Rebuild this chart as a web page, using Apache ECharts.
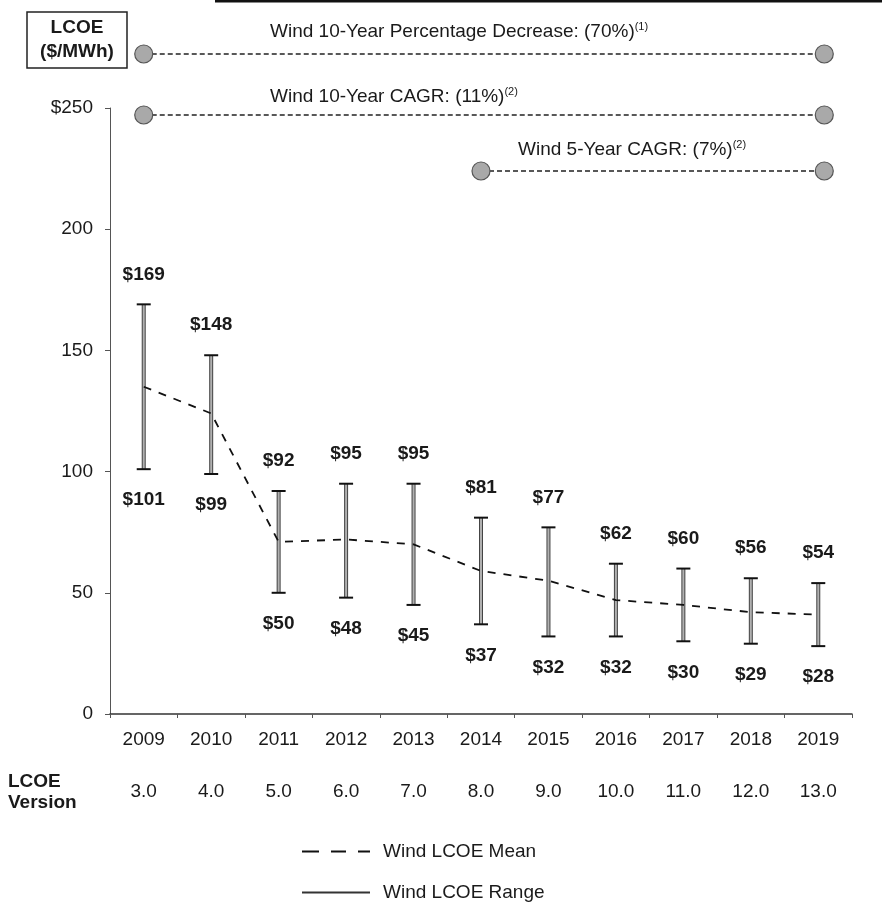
<!DOCTYPE html>
<html>
<head>
<meta charset="utf-8">
<script src="https://cdn.jsdelivr.net/npm/echarts@6/dist/echarts.min.js"></script>
<style>
html,body{margin:0;padding:0;background:#fff;}
#chart{width:882px;height:911px;}
</style>
</head>
<body>
<div id="chart"></div>
<script>
const years = ['2009','2010','2011','2012','2013','2014','2015','2016','2017','2018','2019'];
const versions = ['3.0','4.0','5.0','6.0','7.0','8.0','9.0','10.0','11.0','12.0','13.0'];
const rangeLow = [101, 99, 50, 48, 45, 37, 32, 32, 30, 29, 28];
const rangeHigh = [169, 148, 92, 95, 95, 81, 77, 62, 60, 56, 54];
const meanValues = [135, 124, 71, 72, 70, 59, 55, 47, 45, 42, 41];
const yTicks = [0, 50, 100, 150, 200, 250];

const FONT = 'Arial, "Liberation Sans", sans-serif';
const TXT = '#1a1a1a';
const FS = 19;

const rangeData = years.map((y, i) => [i, rangeLow[i], rangeHigh[i]]);

const chart = echarts.init(document.getElementById('chart'));

const option = {
  animation: false,
  backgroundColor: '#ffffff',
  textStyle: { fontFamily: FONT },
  grid: { left: 110, right: 30, top: 108, bottom: 197 },
  legend: {
    orient: 'vertical',
    left: 297,
    top: 837,
    itemWidth: 68,
    itemHeight: 14,
    itemGap: 22,
    selectedMode: false,
    textStyle: { fontSize: FS, color: TXT, fontFamily: FONT, padding: [0, 0, 0, 8] },
    data: [
      { name: 'Wind LCOE Mean', icon: 'path://M0,0 L17,0 L17,2.2 L0,2.2 Z M29,0 L44,0 L44,2.2 L29,2.2 Z M56,0 L68,0 L68,2.2 L56,2.2 Z', itemStyle: { color: '#111' } },
      { name: 'Wind LCOE Range', icon: 'path://M0,0 L68,0 L68,2.2 L0,2.2 Z', itemStyle: { color: '#333' } }
    ]
  },
  xAxis: [
    {
      type: 'category',
      data: years,
      boundaryGap: true,
      axisLine: { lineStyle: { color: '#333', width: 1.5 } },
      axisTick: { show: true, length: 4, lineStyle: { color: '#555' } },
      axisLabel: { fontSize: FS, color: TXT, margin: 16, fontFamily: FONT }
    },
    {
      type: 'category',
      data: versions,
      position: 'bottom',
      offset: 52,
      boundaryGap: true,
      axisLine: { show: false },
      axisTick: { show: false },
      axisLabel: { fontSize: FS, color: TXT, margin: 16, fontFamily: FONT }
    }
  ],
  yAxis: {
    type: 'value',
    min: 0,
    max: 250,
    interval: 50,
    splitLine: { show: false },
    axisLine: { show: true, lineStyle: { color: '#555', width: 1 } },
    axisTick: { show: true, length: 5, lineStyle: { color: '#555' } },
    axisLabel: {
      fontSize: FS, color: TXT, margin: 17, fontFamily: FONT,
      formatter: v => (v === yTicks[yTicks.length - 1] ? '$' + v : String(v))
    }
  },
  series: [
    {
      name: 'Wind LCOE Range',
      type: 'custom',
      z: 2,
      data: rangeData,
      encode: { x: 0, y: [1, 2] },
      renderItem: function (params, api) {
        const lo = api.coord([api.value(0), api.value(1)]);
        const hi = api.coord([api.value(0), api.value(2)]);
        const cw = 7;
        return {
          type: 'group',
          children: [
            { type: 'line', shape: { x1: lo[0], y1: lo[1], x2: hi[0], y2: hi[1] }, style: { stroke: '#444', lineWidth: 4 } },
            { type: 'line', shape: { x1: lo[0], y1: lo[1], x2: hi[0], y2: hi[1] }, style: { stroke: '#b0b0b0', lineWidth: 2 } },
            { type: 'line', shape: { x1: hi[0] - cw, y1: hi[1], x2: hi[0] + cw, y2: hi[1] }, style: { stroke: '#111', lineWidth: 2 } },
            { type: 'line', shape: { x1: lo[0] - cw, y1: lo[1], x2: lo[0] + cw, y2: lo[1] }, style: { stroke: '#111', lineWidth: 2 } },
            { type: 'text', x: hi[0], y: hi[1] - 30, style: { text: '$' + api.value(2), fill: TXT, font: 'bold ' + FS + 'px ' + FONT, align: 'center', verticalAlign: 'middle' } },
            { type: 'text', x: lo[0], y: lo[1] + 31, style: { text: '$' + api.value(1), fill: TXT, font: 'bold ' + FS + 'px ' + FONT, align: 'center', verticalAlign: 'middle' } }
          ]
        };
      }
    },
    {
      name: 'Wind LCOE Mean',
      type: 'line',
      z: 5,
      data: meanValues,
      symbol: 'none',
      lineStyle: { color: '#111', width: 1.8, type: [8, 8] },
      itemStyle: { color: '#111' }
    }
  ]
};

chart.setOption(option);

function buildGraphics() {
  const x2009 = chart.convertToPixel({ xAxisIndex: 0 }, years[0]);
  const x2014 = chart.convertToPixel({ xAxisIndex: 0 }, years[5]);
  const x2019 = chart.convertToPixel({ xAxisIndex: 0 }, years[10]);
  const rightX = x2019 + 6;
  const rows = [
    { x1: x2009, y: 54, text: 'Wind 10-Year Percentage Decrease: (70%)', sup: '(1)', tx: 270, ty: 32 },
    { x1: x2009, y: 115, text: 'Wind 10-Year CAGR: (11%)', sup: '(2)', tx: 270, ty: 97 },
    { x1: x2014, y: 171, text: 'Wind 5-Year CAGR: (7%)', sup: '(2)', tx: 518, ty: 150 }
  ];
  const els = [];
  els.push({ type: 'line', shape: { x1: 215, y1: 1, x2: 882, y2: 1 }, style: { stroke: '#111', lineWidth: 3 } });
  els.push({ type: 'rect', shape: { x: 27, y: 12, width: 100, height: 56 }, style: { fill: '#fff', stroke: '#222', lineWidth: 1.5 } });
  els.push({ type: 'text', x: 77, y: 28, style: { text: 'LCOE', font: 'bold ' + FS + 'px ' + FONT, fill: TXT, align: 'center', verticalAlign: 'middle' } });
  els.push({ type: 'text', x: 77, y: 52, style: { text: '($/MWh)', font: 'bold ' + FS + 'px ' + FONT, fill: TXT, align: 'center', verticalAlign: 'middle' } });
  els.push({ type: 'text', x: 8, y: 782, style: { text: 'LCOE', font: 'bold ' + FS + 'px ' + FONT, fill: TXT, align: 'left', verticalAlign: 'middle' } });
  els.push({ type: 'text', x: 8, y: 803, style: { text: 'Version', font: 'bold ' + FS + 'px ' + FONT, fill: TXT, align: 'left', verticalAlign: 'middle' } });
  rows.forEach(r => {
    els.push({ type: 'line', shape: { x1: r.x1, y1: r.y, x2: rightX, y2: r.y }, style: { stroke: '#222', lineWidth: 1.3, lineDash: [5, 3] } });
    [r.x1, rightX].forEach(cx => {
      els.push({ type: 'circle', shape: { cx: cx, cy: r.y, r: 9 }, style: { fill: '#a9a9a9', stroke: '#555', lineWidth: 1.2 } });
    });
    els.push({
      type: 'text', x: r.tx, y: r.ty,
      style: {
        text: '{a|' + r.text + '}{s|' + r.sup + '}',
        align: 'left', verticalAlign: 'middle',
        rich: {
          a: { fontSize: FS, fontFamily: FONT, fill: TXT, lineHeight: 22 },
          s: { fontSize: 11, fontFamily: FONT, fill: TXT, lineHeight: 13, verticalAlign: 'top' }
        }
      }
    });
  });
  chart.setOption({ graphic: { elements: els } });
}
buildGraphics();
</script>
</body>
</html>
